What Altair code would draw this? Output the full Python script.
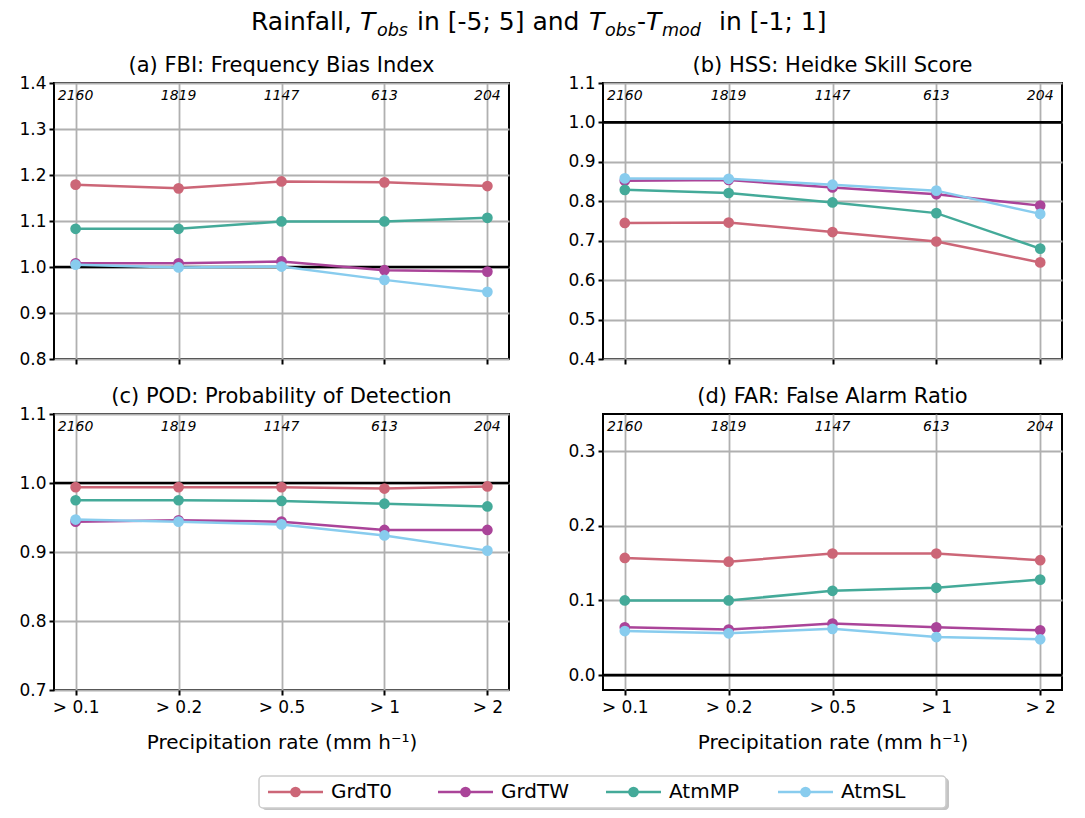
import altair as alt
import pandas as pd

# ---------------- data ----------------
thresholds = ["> 0.1", "> 0.2", "> 0.5", "> 1", "> 2"]
counts = ["2160", "1819", "1147", "613", "204"]
series = ["GrdT0", "GrdTW", "AtmMP", "AtmSL"]
colors = ["#CC6677", "#AA4499", "#44AA99", "#88CCEE"]

fbi_grdt0 = [1.179, 1.171, 1.186, 1.184, 1.176]
fbi_grdtw = [1.008, 1.008, 1.012, 0.993, 0.990]
fbi_atmmp = [1.083, 1.083, 1.099, 1.099, 1.107]
fbi_atmsl = [1.005, 0.999, 1.001, 0.972, 0.946]

hss_grdt0 = [0.745, 0.746, 0.722, 0.698, 0.645]
hss_grdtw = [0.852, 0.854, 0.835, 0.818, 0.789]
hss_atmmp = [0.829, 0.821, 0.797, 0.770, 0.680]
hss_atmsl = [0.858, 0.857, 0.842, 0.827, 0.768]

pod_grdt0 = [0.994, 0.994, 0.994, 0.992, 0.995]
pod_grdtw = [0.944, 0.946, 0.944, 0.932, 0.932]
pod_atmmp = [0.975, 0.975, 0.974, 0.970, 0.966]
pod_atmsl = [0.947, 0.944, 0.940, 0.924, 0.902]

far_grdt0 = [0.157, 0.152, 0.163, 0.163, 0.154]
far_grdtw = [0.064, 0.061, 0.069, 0.064, 0.060]
far_atmmp = [0.100, 0.100, 0.113, 0.117, 0.128]
far_atmsl = [0.059, 0.056, 0.062, 0.051, 0.048]

fbi_ticks = [0.8, 0.9, 1.0, 1.1, 1.2, 1.3, 1.4]
hss_ticks = [0.4, 0.5, 0.6, 0.7, 0.8, 0.9, 1.0, 1.1]
pod_ticks = [0.7, 0.8, 0.9, 1.0, 1.1]
far_ticks = [0.0, 0.1, 0.2, 0.3]

x_title = "Precipitation rate (mm h\u207b\u00b9)"

# title pieces (text, italic, subscript)
title_text = ["Rainfall,", "T", "obs", "in [-5; 5] and", "T", "obs", "-", "T", "mod", "in [-1; 1]"]
title_italic = [False, True, True, False, True, True, False, True, True, False]
title_sub = [False, False, True, False, False, True, False, False, True, False]

# ---------------- layout / style ----------------
FONT = "DejaVu Sans"
PANEL_H = 276
GRID = "#b0b0b0"
# x positions (pixels from the left edge of the plot column)
title_x = [197, 306, 323, 363, 535, 551, 583, 592, 608, 665]
legend_line_x = [214, 384, 552, 724]
SIDE_W = 1000

color_scale = alt.Scale(domain=series, range=colors)
color_enc = alt.Color("series:N", scale=color_scale, legend=None)


def make_panel(title, metric_values, ydomain, yticks, ref, bottom, width, title_offset):
    ymin, ymax = ydomain
    common_x = dict(tickSize=5, tickWidth=2, tickColor="black", domain=False,
                    grid=True, gridColor=GRID, gridWidth=1.8, labelAngle=0)
    if bottom:
        xaxis = alt.Axis(title=x_title, labelFontSize=17, titleFontSize=20,
                         titleFontWeight="normal", labelPadding=4, titlePadding=17,
                         labelColor="black", titleColor="black", **common_x)
    else:
        xaxis = alt.Axis(title=None, labels=False, **common_x)
    xenc = alt.X("threshold:N", sort=thresholds,
                 scale=alt.Scale(type="point", padding=0.21), axis=xaxis)
    yaxis = alt.Axis(values=yticks, format=".1f", title=None, labelFontSize=17,
                     tickSize=5, tickWidth=2, tickColor="black", domain=False,
                     grid=True, gridColor=GRID, gridWidth=1.8, labelPadding=3,
                     labelColor="black", minExtent=45, maxExtent=45)
    yscale = alt.Scale(domain=[ymin, ymax], nice=False, zero=False)
    yenc = alt.Y("value:Q", scale=yscale, axis=yaxis)

    layers = [
        alt.Chart(pd.DataFrame({"value": [ref]}))
        .mark_rule(color="black", strokeWidth=2.7)
        .encode(y=yenc)
    ]
    for s, vals in zip(series, metric_values):
        df = pd.DataFrame({"threshold": thresholds, "value": vals, "series": [s] * len(vals)})
        base = alt.Chart(df)
        layers.append(base.mark_line(strokeWidth=2.5).encode(x=xenc, y=yenc, color=color_enc))
        layers.append(base.mark_circle(size=115, opacity=1).encode(x=xenc, y=yenc, color=color_enc))

    ylab = ymax - 13.0 / PANEL_H * (ymax - ymin)
    cnt = pd.DataFrame({"threshold": thresholds, "count": counts, "value": [ylab] * len(counts)})
    layers.append(
        alt.Chart(cnt)
        .mark_text(fontStyle="italic", fontSize=14, baseline="middle", color="black")
        .encode(x=xenc, y=yenc, text="count:N")
    )
    return alt.layer(*layers).properties(
        width=width,
        height=PANEL_H,
        title=alt.TitleParams(title, fontSize=21, fontWeight="normal", anchor="middle",
                              frame="group", offset=title_offset, color="black"),
        view=alt.ViewBackground(stroke="black", strokeWidth=2),
    )


pa = make_panel("(a) FBI: Frequency Bias Index",
                [fbi_grdt0, fbi_grdtw, fbi_atmmp, fbi_atmsl], (0.8, 1.4), fbi_ticks, 1.0, False, 455, -2)
pb = make_panel("(b) HSS: Heidke Skill Score",
                [hss_grdt0, hss_grdtw, hss_atmmp, hss_atmsl], (0.4, 1.1), hss_ticks, 1.0, False, 459, -2)
pc = make_panel("(c) POD: Probability of Detection",
                [pod_grdt0, pod_grdtw, pod_atmmp, pod_atmsl], (0.7, 1.1), pod_ticks, 1.0, True, 455, -2)
pd_ = make_panel("(d) FAR: False Alarm Ratio",
                 [far_grdt0, far_grdtw, far_atmmp, far_atmsl], (-0.02, 0.35), far_ticks, 0.0, True, 459, 7)

# ---------------- title ----------------
title_layers = []
for txt, xx, it, sub in zip(title_text, title_x, title_italic, title_sub):
    title_layers.append(
        alt.Chart(pd.DataFrame({"t": [txt]}))
        .mark_text(align="left", baseline="alphabetic", fontSize=17.5 if sub else 25,
                   fontStyle="italic" if it else "normal", color="black")
        .encode(x=alt.value(xx), y=alt.value(28 if sub else 22), text="t:N")
    )
title_chart = alt.layer(*title_layers).properties(
    width=SIDE_W, height=46, view=alt.ViewBackground(strokeWidth=0))

# ---------------- legend ----------------
leg = pd.DataFrame({
    "series": series,
    "lx": legend_line_x,
    "lx2": [v + 55 for v in legend_line_x],
    "mx": [v + 27.5 for v in legend_line_x],
    "tx": [v + 63 for v in legend_line_x],
})
lxs = alt.Scale(domain=[0, SIDE_W], nice=False, zero=False)
leg_base = alt.Chart(leg)
legend_chart = alt.layer(
    alt.Chart(pd.DataFrame({"a": [0]})).mark_rect(fill="#c4c4c4", cornerRadius=4).encode(
        x=alt.value(208), x2=alt.value(895), y=alt.value(3), y2=alt.value(35)),
    alt.Chart(pd.DataFrame({"a": [0]})).mark_rect(fill="white", stroke="#cccccc", strokeWidth=1.5,
                                                  cornerRadius=4).encode(
        x=alt.value(205), x2=alt.value(892), y=alt.value(1), y2=alt.value(33)),
    leg_base.mark_rule(strokeWidth=2.5).encode(
        x=alt.X("lx:Q", scale=lxs, axis=None), x2="lx2:Q", y=alt.value(17), color=color_enc),
    leg_base.mark_circle(size=115, opacity=1).encode(
        x=alt.X("mx:Q", scale=lxs, axis=None), y=alt.value(17), color=color_enc),
    leg_base.mark_text(align="left", baseline="middle", fontSize=20, color="black").encode(
        x=alt.X("tx:Q", scale=lxs, axis=None), y=alt.value(17), text="series:N"),
).properties(width=SIDE_W, height=35, view=alt.ViewBackground(strokeWidth=0))

rows = alt.vconcat(alt.hconcat(pa, pb, spacing=45), alt.hconcat(pc, pd_, spacing=45), spacing=17)
body = alt.vconcat(rows, legend_chart, spacing=22)
chart = alt.vconcat(title_chart, body, spacing=0).properties(padding=0).configure(
    font=FONT, background="white")

chart.save("out.html", embed_options={"renderer": "svg", "actions": False})
